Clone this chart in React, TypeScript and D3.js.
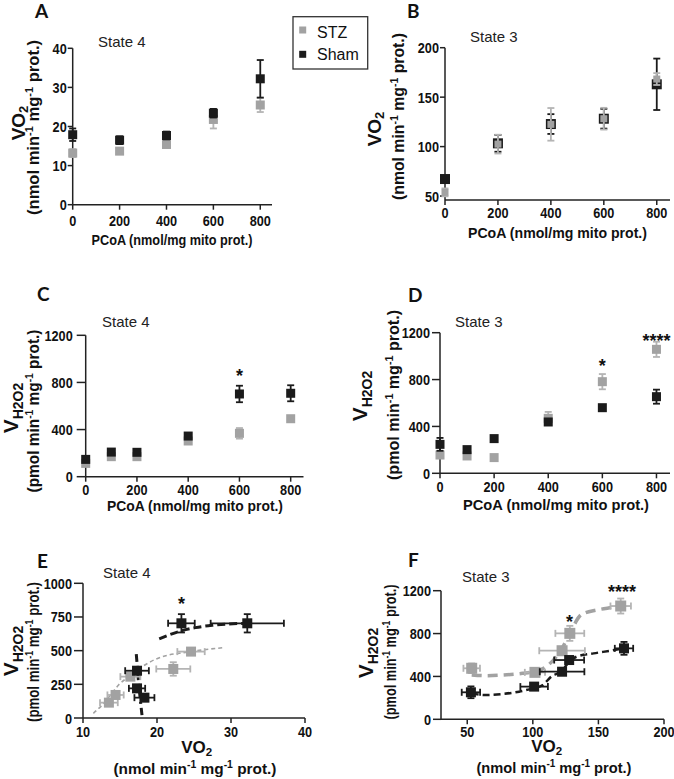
import React from 'react';
import * as d3 from 'd3';

const FONT = '"Liberation Sans", Arial, sans-serif';
const LETTER_FONT = 'Lato, "Open Sans", sans-serif';
const STZ_COLOR = '#a2a2a2';
const STZ_ERR = '#b4b4b4';
const SHAM_COLOR = '#1b1b1b';

// ---------- data ----------
const PCOA_5 = [0, 200, 400, 600, 800];
const PCOA_6 = [0, 100, 200, 400, 600, 800];
const PCOA_TICKS = [0, 200, 400, 600, 800];

// A: State 4 VO2
const A_STZ = [13.2, 13.7, 15.4, 21.8, 25.5];
const A_STZ_ERR = [1.0, 0.7, 0.8, 2.3, 1.8];
const A_SHAM = [17.9, 16.5, 17.7, 23.4, 32.2];
const A_SHAM_ERR = [1.6, 1.0, 1.0, 1.1, 4.8];
const A_YTICKS = [0, 10, 20, 30, 40];

// B: State 3 VO2
const B_STZ = [53.7, 102.5, 122.5, 128.2, 168.3];
const B_STZ_ERR = [4, 9.5, 16.5, 11, 6];
const B_SHAM = [67.2, 103.3, 122.8, 128.2, 163];
const B_SHAM_ERR = [2, 8.5, 10, 10, 26];
const B_YTICKS = [50, 100, 150, 200];

// C: State 4 VH2O2
const C_STZ = [113, 170, 170, 303, 368, 492];
const C_STZ_ERR = [10, 10, 10, 10, 45, 22];
const C_SHAM = [147, 209, 207, 345, 702, 708];
const C_SHAM_ERR = [10, 10, 10, 12, 70, 68];
const H2O2_TICKS = [0, 400, 800, 1200];

// D: State 3 VH2O2
const D_STZ = [156, 148, 134, 469, 782, 1058];
const D_STZ_ERR = [15, 10, 10, 55, 65, 65];
const D_SHAM = [247, 202, 296, 438, 560, 654];
const D_SHAM_ERR = [55, 10, 10, 15, 10, 60];

// E: State 4 VH2O2 vs VO2
const E_STZ_X = [13.5, 14.4, 16.4, 22.2, 24.6];
const E_STZ_XERR = [1.2, 1.1, 1.35, 2.3, 1.85];
const E_STZ_Y = [114, 171, 307, 364, 493];
const E_STZ_YERR = [15, 20, 20, 50, 20];
const E_SHAM_X = [17.3, 17.3, 18.3, 23.3, 32.2];
const E_SHAM_XERR = [1.6, 1.1, 1.35, 1.8, 4.95];
const E_SHAM_Y = [351, 220, 151, 703, 703];
const E_SHAM_YERR = [25, 25, 15, 68, 68];
const E_XTICKS = [10, 20, 30, 40];
const E_YTICKS = [0, 250, 500, 750, 1000];
const E_FIT_STZ_X = [11.4, 12.6, 13.9, 14.8, 16.2, 18.0, 19.8, 21.6, 23.6, 26.1, 29.0];
const E_FIT_STZ_Y = [35, 97, 183, 245, 307, 381, 436, 468, 485, 505, 522];
const E_FIT_SHAM_A_X = [20.3, 21.6, 23.4, 25.2, 27.4, 29.7, 32.2, 33.0];
const E_FIT_SHAM_A_Y = [587, 616, 649, 671, 688, 698, 703, 704];
const E_FIT_SHAM_B_X = [17.2, 17.34, 17.52, 17.75, 17.97];
const E_FIT_SHAM_B_Y = [475, 381, 257, 134, 22];

// F: State 3 VH2O2 vs VO2
const F_STZ_X = [53.4, 101.6, 122.3, 128.2, 167];
const F_STZ_XERR = [6.3, 7.7, 17.4, 11, 7.8];
const F_STZ_Y = [476, 438, 640, 802, 1057];
const F_STZ_YERR = [45, 25, 30, 70, 70];
const F_SHAM_X = [52.8, 101, 122.3, 127.7, 169.5];
const F_SHAM_XERR = [7, 10.5, 17, 11.4, 7];
const F_SHAM_Y = [252, 305, 444, 553, 662];
const F_SHAM_YERR = [55, 25, 20, 25, 60];
const F_XTICKS = [50, 100, 150, 200];
const F_FIT_STZ_X = [53.4, 63.7, 76.6, 92.1, 101.1, 110.1, 117.9, 122.3, 128.2, 137.2, 148.9, 160.5, 166.9];
const F_FIT_STZ_Y = [413, 407, 413, 429, 445, 491, 584, 662, 802, 979, 1020, 1044, 1057];
const F_FIT_SHAM_X = [53.4, 63.7, 76.6, 89.5, 99.8, 107.6, 114.0, 122.3, 127.7, 133.4, 146.3, 159.2, 169.5];
const F_FIT_SHAM_Y = [242, 227, 236, 258, 289, 320, 398, 454, 538, 584, 615, 640, 662];

// ---------- types ----------
type Series = {
  x: number[]; y: number[]; ey: number[]; ex?: number[];
  fill: string; err: string; size: number; cap: number;
};
type Fit = { x: number[]; y: number[]; color: string; width: number; dash: string };
type Star = { x: number; y: number; text: string };
type YTitle = {
  kind: 'vo2' | 'h2o2';
  l1x: number; l1y: number; l2x: number; l2y: number; l2len: number;
};
type XTitle =
  | { kind: 'pcoa'; cx: number; by: number; len: number }
  | { kind: 'vo2'; cx1: number; by1: number; cx2: number; by2: number; len: number };
type Cfg = {
  letter: string; lx: number; ly: number;
  state: string; sx: number; sy: number;
  xDomain: [number, number]; xRange: [number, number]; xTicks: number[]; xLabOff: number;
  yDomain: [number, number]; yRange: [number, number]; yTicks: number[];
  yTickLen: number; yLabOff: number;
  series: Series[]; fits: Fit[]; stars: Star[];
  yTitle: YTitle; xTitle: XTitle;
};

const mk = (x: number[], y: number[], ey: number[], stz: boolean, size: number, ex?: number[]): Series => ({
  x, y, ey, ex,
  fill: stz ? STZ_COLOR : SHAM_COLOR,
  err: stz ? STZ_ERR : SHAM_COLOR,
  size, cap: 7,
});

const PANELS: Cfg[] = [
  {
    letter: 'A', lx: 35, ly: 18, state: 'State 4', sx: 98, sy: 47,
    xDomain: [0, 850], xRange: [72.7, 272], xTicks: PCOA_TICKS, xLabOff: 21,
    yDomain: [0, 40], yRange: [204.7, 48.3], yTicks: A_YTICKS, yTickLen: 5, yLabOff: 6,
    series: [mk(PCOA_5, A_STZ, A_STZ_ERR, true, 9), mk(PCOA_5, A_SHAM, A_SHAM_ERR, false, 9)],
    fits: [], stars: [],
    yTitle: { kind: 'vo2', l1x: 24.5, l1y: 123, l2x: 39, l2y: 127.5, l2len: 175 },
    xTitle: { kind: 'pcoa', cx: 172, by: 245, len: 161 },
  },
  {
    letter: 'B', lx: 407, ly: 17.5, state: 'State 3', sx: 470, sy: 42,
    xDomain: [0, 850], xRange: [445, 670], xTicks: PCOA_TICKS, xLabOff: 18,
    yDomain: [46, 200], yRange: [200, 47.7], yTicks: B_YTICKS, yTickLen: 5, yLabOff: 6,
    series: [mk(PCOA_5, B_SHAM, B_SHAM_ERR, false, 10), mk(PCOA_5, B_STZ, B_STZ_ERR, true, 7)],
    fits: [], stars: [],
    yTitle: { kind: 'vo2', l1x: 381, l1y: 129, l2x: 404, l2y: 116.5, l2len: 167 },
    xTitle: { kind: 'pcoa', cx: 557.5, by: 238, len: 179 },
  },
  {
    letter: 'C', lx: 37, ly: 301, state: 'State 4', sx: 102, sy: 327,
    xDomain: [0, 850], xRange: [85.7, 303.5], xTicks: PCOA_TICKS, xLabOff: 18,
    yDomain: [0, 1200], yRange: [476.7, 335.3], yTicks: H2O2_TICKS, yTickLen: 9, yLabOff: 13,
    series: [mk(PCOA_6, C_STZ, C_STZ_ERR, true, 9), mk(PCOA_6, C_SHAM, C_SHAM_ERR, false, 9)],
    fits: [], stars: [{ x: 600, y: 891, text: '*' }],
    yTitle: { kind: 'h2o2', l1x: 18, l1y: 408, l2x: 39, l2y: 411, l2len: 163 },
    xTitle: { kind: 'pcoa', cx: 195, by: 511, len: 176 },
  },
  {
    letter: 'D', lx: 408, ly: 302, state: 'State 3', sx: 455, sy: 327,
    xDomain: [0, 850], xRange: [440, 670], xTicks: PCOA_TICKS, xLabOff: 18.5,
    yDomain: [0, 1200], yRange: [473.3, 332.7], yTicks: H2O2_TICKS, yTickLen: 8, yLabOff: 10,
    series: [mk(PCOA_6, D_STZ, D_STZ_ERR, true, 9), mk(PCOA_6, D_SHAM, D_SHAM_ERR, false, 9)],
    fits: [], stars: [{ x: 600, y: 952, text: '*' }, { x: 800, y: 1163, text: '****' }],
    yTitle: { kind: 'h2o2', l1x: 367, l1y: 396, l2x: 399, l2y: 395, l2len: 170 },
    xTitle: { kind: 'pcoa', cx: 556, by: 509.5, len: 186 },
  },
  {
    letter: 'E', lx: 37, ly: 568, state: 'State 4', sx: 103, sy: 578,
    xDomain: [10, 40], xRange: [83, 305], xTicks: E_XTICKS, xLabOff: 19,
    yDomain: [0, 1000], yRange: [718, 583.3], yTicks: E_YTICKS, yTickLen: 9, yLabOff: 11,
    series: [
      mk(E_STZ_X, E_STZ_Y, E_STZ_YERR, true, 10, E_STZ_XERR),
      mk(E_SHAM_X, E_SHAM_Y, E_SHAM_YERR, false, 10, E_SHAM_XERR),
    ],
    fits: [
      { x: E_FIT_STZ_X, y: E_FIT_STZ_Y, color: STZ_COLOR, width: 1.6, dash: '4 3' },
      { x: E_FIT_SHAM_A_X, y: E_FIT_SHAM_A_Y, color: SHAM_COLOR, width: 3, dash: '8 4' },
      { x: E_FIT_SHAM_B_X, y: E_FIT_SHAM_B_Y, color: SHAM_COLOR, width: 3, dash: '8 4 2 4' },
    ],
    stars: [{ x: 23.3, y: 876, text: '*' }],
    yTitle: { kind: 'h2o2', l1x: 18, l1y: 651, l2x: 39, l2y: 652, l2len: 140 },
    xTitle: { kind: 'vo2', cx1: 196.7, by1: 753, cx2: 195, by2: 774, len: 163 },
  },
  {
    letter: 'F', lx: 408, ly: 567, state: 'State 3', sx: 462, sy: 582,
    xDomain: [30, 200], xRange: [441, 664], xTicks: F_XTICKS, xLabOff: 17.5,
    yDomain: [0, 1200], yRange: [719.3, 590.7], yTicks: H2O2_TICKS, yTickLen: 8, yLabOff: 10,
    series: [
      mk(F_STZ_X, F_STZ_Y, F_STZ_YERR, true, 11, F_STZ_XERR),
      mk(F_SHAM_X, F_SHAM_Y, F_SHAM_YERR, false, 10, F_SHAM_XERR),
    ],
    fits: [
      { x: F_FIT_STZ_X, y: F_FIT_STZ_Y, color: STZ_COLOR, width: 3.5, dash: '10 6' },
      { x: F_FIT_SHAM_X, y: F_FIT_SHAM_Y, color: SHAM_COLOR, width: 2.5, dash: '7 4' },
    ],
    stars: [{ x: 128, y: 945, text: '*' }, { x: 168, y: 1225, text: '****' }],
    yTitle: { kind: 'h2o2', l1x: 373, l1y: 653, l2x: 396, l2y: 652, l2len: 135 },
    xTitle: { kind: 'vo2', cx1: 546.7, by1: 752, cx2: 554, by2: 773, len: 155 },
  },
];

function YTitleEl({ t }: { t: YTitle }) {
  const sup = (s: string) => (
    <>
      <tspan dy={-6} fontSize={11}>{s}</tspan>
      <tspan dy={6}> </tspan>
    </>
  );
  return (
    <g fontFamily={FONT} fontWeight="bold" fill="#111">
      <text transform={`translate(${t.l1x},${t.l1y}) rotate(-90)`} textAnchor="middle">
        {t.kind === 'vo2' ? (
          <>
            <tspan fontSize={19}>VO</tspan>
            <tspan fontSize={13} dy={3}>2</tspan>
          </>
        ) : (
          <>
            <tspan fontSize={21}>V</tspan>
            <tspan fontSize={14} dy={5}>H2O2</tspan>
          </>
        )}
      </text>
      <text
        transform={`translate(${t.l2x},${t.l2y}) rotate(-90)`}
        textAnchor="middle"
        fontSize={16.5}
        textLength={t.l2len}
        lengthAdjust="spacingAndGlyphs"
      >
        <tspan>{t.kind === 'vo2' ? '(nmol min' : '(pmol min'}</tspan>
        {sup('-1')}
        <tspan>mg</tspan>
        {sup('-1')}
        <tspan>prot.)</tspan>
      </text>
    </g>
  );
}

function XTitleEl({ t }: { t: XTitle }) {
  if (t.kind === 'pcoa') {
    return (
      <text x={t.cx} y={t.by} textAnchor="middle" fontFamily={FONT} fontWeight="bold" fontSize={15}
        textLength={t.len} lengthAdjust="spacingAndGlyphs" fill="#111">
        PCoA (nmol/mg mito prot.)
      </text>
    );
  }
  return (
    <g fontFamily={FONT} fontWeight="bold" fill="#111">
      <text x={t.cx1} y={t.by1} textAnchor="middle">
        <tspan fontSize={17}>VO</tspan>
        <tspan fontSize={11.5} dy={3}>2</tspan>
      </text>
      <text x={t.cx2} y={t.by2} textAnchor="middle" fontSize={15.5} textLength={t.len} lengthAdjust="spacingAndGlyphs">
        <tspan>(nmol min</tspan>
        <tspan dy={-6} fontSize={10.5}>-1</tspan>
        <tspan dy={6}> mg</tspan>
        <tspan dy={-6} fontSize={10.5}>-1</tspan>
        <tspan dy={6}> prot.)</tspan>
      </text>
    </g>
  );
}

function Panel({ cfg }: { cfg: Cfg }) {
  const x = d3.scaleLinear().domain(cfg.xDomain).range(cfg.xRange);
  const y = d3.scaleLinear().domain(cfg.yDomain).range(cfg.yRange);
  const line = d3
    .line<[number, number]>()
    .x((d) => x(d[0]))
    .y((d) => y(d[1]))
    .curve(d3.curveMonotoneX);
  const x0 = cfg.xRange[0];
  const y0 = cfg.yRange[0];
  const axisColor = '#222';
  return (
    <g>
      <text x={cfg.lx} y={cfg.ly} fontFamily={LETTER_FONT} fontWeight="bold" fontSize={19} fill="#111">
        {cfg.letter}
      </text>
      <text x={cfg.sx} y={cfg.sy} fontFamily={FONT} fontSize={15} fill="#222">
        {cfg.state}
      </text>
      {cfg.fits.map((f, i) => (
        <path
          key={'f' + i}
          d={line(f.x.map((v, j) => [v, f.y[j]] as [number, number])) || ''}
          fill="none"
          stroke={f.color}
          strokeWidth={f.width}
          strokeDasharray={f.dash}
        />
      ))}
      <line x1={x0} x2={x0} y1={y0} y2={cfg.yRange[1]} stroke={axisColor} strokeWidth={1.5} />
      <line x1={x0} x2={cfg.xRange[1]} y1={y0} y2={y0} stroke={axisColor} strokeWidth={1.5} />
      {cfg.yTicks.map((t) => (
        <g key={'yt' + t}>
          <line x1={x0 - cfg.yTickLen} x2={x0} y1={y(t)} y2={y(t)} stroke={axisColor} strokeWidth={1.5} />
          <text
            transform={`translate(${x0 - cfg.yLabOff},${y(t) + 5.5}) scale(0.82,1)`}
            textAnchor="end" fontFamily={FONT} fontWeight="bold" fontSize={15.5} fill="#111"
          >
            {t}
          </text>
        </g>
      ))}
      {cfg.xTicks.map((t) => (
        <g key={'xt' + t}>
          <line x1={x(t)} x2={x(t)} y1={y0} y2={y0 + 5} stroke={axisColor} strokeWidth={1.5} />
          <text
            transform={`translate(${x(t)},${y0 + cfg.xLabOff}) scale(0.82,1)`}
            textAnchor="middle" fontFamily={FONT} fontWeight="bold" fontSize={15.5} fill="#111"
          >
            {t}
          </text>
        </g>
      ))}
      {cfg.series.map((s, si) => (
        <g key={'s' + si}>
          {s.x.map((xv, i) => {
            const px = x(xv);
            const py = y(s.y[i]);
            const yt = y(s.y[i] + s.ey[i]);
            const yb = y(s.y[i] - s.ey[i]);
            const c = s.cap / 2;
            return (
              <g key={i} stroke={s.err} strokeWidth={1.8}>
                <line x1={px} x2={px} y1={yt} y2={yb} />
                <line x1={px - c} x2={px + c} y1={yt} y2={yt} />
                <line x1={px - c} x2={px + c} y1={yb} y2={yb} />
                {s.ex && (
                  <>
                    <line x1={x(xv - s.ex[i])} x2={x(xv + s.ex[i])} y1={py} y2={py} />
                    <line x1={x(xv - s.ex[i])} x2={x(xv - s.ex[i])} y1={py - c} y2={py + c} />
                    <line x1={x(xv + s.ex[i])} x2={x(xv + s.ex[i])} y1={py - c} y2={py + c} />
                  </>
                )}
              </g>
            );
          })}
          {s.x.map((xv, i) => (
            <rect
              key={'r' + i}
              x={x(xv) - s.size / 2}
              y={y(s.y[i]) - s.size / 2}
              width={s.size}
              height={s.size}
              fill={s.fill}
            />
          ))}
        </g>
      ))}
      {cfg.stars.map((st, i) => (
        <text key={'st' + i} x={x(st.x)} y={y(st.y) + 10} textAnchor="middle" fontFamily={FONT} fontWeight="bold" fontSize={18} fill="#111">
          {st.text}
        </text>
      ))}
      <YTitleEl t={cfg.yTitle} />
      <XTitleEl t={cfg.xTitle} />
    </g>
  );
}

function Legend() {
  return (
    <g fontFamily={FONT} fontSize={16} fill="#111">
      <rect x={293} y={16.7} width={74.7} height={52.3} fill="white" stroke="#333" strokeWidth={1.3} />
      <rect x={299.2} y={26.5} width={7} height={7} fill={STZ_COLOR} />
      <text x={317} y={37.7}>STZ</text>
      <rect x={299.2} y={50.8} width={7} height={7} fill={SHAM_COLOR} />
      <text x={317} y={60}>Sham</text>
    </g>
  );
}

export default function App() {
  return (
    <svg
      width={674}
      height={779}
      viewBox="0 0 674 779"
      style={{ position: 'absolute', left: 0, top: 0, background: 'white' }}
    >
      <rect width={674} height={779} fill="white" />
      {PANELS.map((p) => (
        <Panel key={p.letter} cfg={p} />
      ))}
      <Legend />
    </svg>
  );
}
